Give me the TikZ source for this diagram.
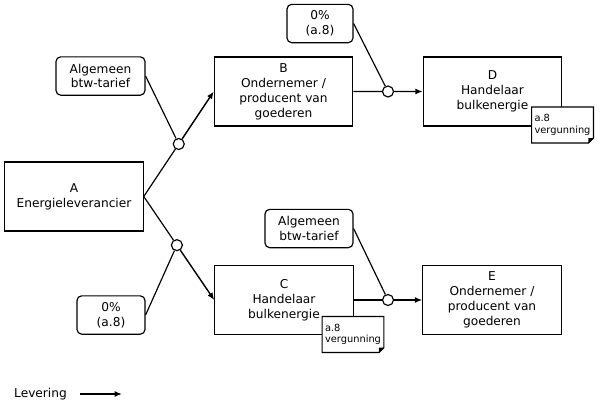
\documentclass[tikz,border=0pt]{standalone}
\usepackage{fontspec}
\setmainfont{DejaVu Sans}
\usetikzlibrary{arrows.meta,positioning,calc}

\begin{document}
\begin{tikzpicture}[x=0.03cm, y=-0.03cm,
    party/.style={rectangle, draw, line width=1pt, fill=white,
        minimum width=4.15cm, minimum height=2.07cm, align=center,
        font=\fontsize{10.4}{12.7}\selectfont, inner sep=2pt},
    rate/.style={rectangle, draw, line width=1pt, rounded corners=4pt,
        minimum height=1.15cm, align=center,
        font=\fontsize{10.4}{12.7}\selectfont, inner sep=2pt},
    note/.style={rectangle, fill=white, minimum width=1.84cm,
        minimum height=1.07cm, align=left,
        font=\fontsize{8.4}{10}\selectfont, inner sep=2pt},
    knot/.style={circle, draw, line width=1pt, fill=white,
        minimum size=0.33cm, inner sep=0pt},
    link/.style={line width=1pt},
    arr/.style={-{Latex[length=2.2mm,width=1.8mm]}, line width=1.2pt}
]
    \useasboundingbox (0,0) rectangle (600,406);
    % parties
    \node[party] (A) at (74,196.5) {A\\Energieleverancier};
    \node[party] (B) at (283.5,91.5) {B\\Ondernemer /\\producent van\\goederen};
    \node[party] (D) at (492.5,91.5) {D\\Handelaar\\bulkenergie};
    \node[party] (C) at (284,300) {C\\Handelaar\\bulkenergie};
    \node[party] (E) at (492,300) {E\\Ondernemer /\\producent van\\goederen};
    % rates
    \node[rate, minimum width=2.67cm] (r1) at (100.5,76) {Algemeen\\btw-tarief};
    \node[rate, minimum width=1.98cm] (r2) at (320,23.5) {0\%\\(a.8)};
    \node[rate, minimum width=2.64cm] (r3) at (309,228.5) {Algemeen\\btw-tarief};
    \node[rate, minimum width=2.04cm] (r4) at (111,315) {0\%\\(a.8)};
    % junctions
    \node[knot] (k1) at ($(A.east)!0.5!(B.west)$) {};
    \node[knot] (k2) at ($(B.east)!0.5!(D.west)$) {};
    \node[knot] (k3) at ($(C.east)!0.5!(E.west)$) {};
    \node[knot] (k4) at ($(A.east)!0.47!(C.west)$) {};
    % supplies
    \draw[link] (A.east) -- (k1);
    \draw[arr] (k1) -- (B.west);
    \draw[link] (A.east) -- (k4);
    \draw[arr] (k4) -- (C.west);
    \draw[link] (B.east) -- (k2);
    \draw[arr] (k2) -- (D.west);
    \draw[link] (C.east) -- (k3);
    \draw[arr] (k3) -- (E.west);
    \draw[link] (r1.east) -- (k1);
    \draw[link] (r2.east) -- (k2);
    \draw[link] (r3.east) -- (k3);
    \draw[link] (r4.east) -- (k4);
    % licence notes
    \node[note] (nD) at (562.5,125) {a.8\\vergunning};
    \node[note] (nC) at (353,334.5) {a.8\\vergunning};
    \foreach \n in {nD,nC} {
        \draw[line width=1pt] (\n.north west) -- (\n.north east)
            -- ($(\n.south east)+(0,-5)$) -- ($(\n.south east)+(-5,0)$)
            -- (\n.south west) -- cycle;
        \fill ($(\n.south east)+(0,-5)$) -- ($(\n.south east)+(-5,0)$)
            -- ($(\n.south east)+(-5,-5)$) -- cycle;
    }
    % legend
    \node[font=\fontsize{10.4}{12.7}\selectfont] (lev) at (40.5,394) {Levering};
    \coordinate (levs) at (80,394);
    \coordinate (leve) at (122,394);
    \draw[arr] (levs) -- (leve);
\end{tikzpicture}
\end{document}
